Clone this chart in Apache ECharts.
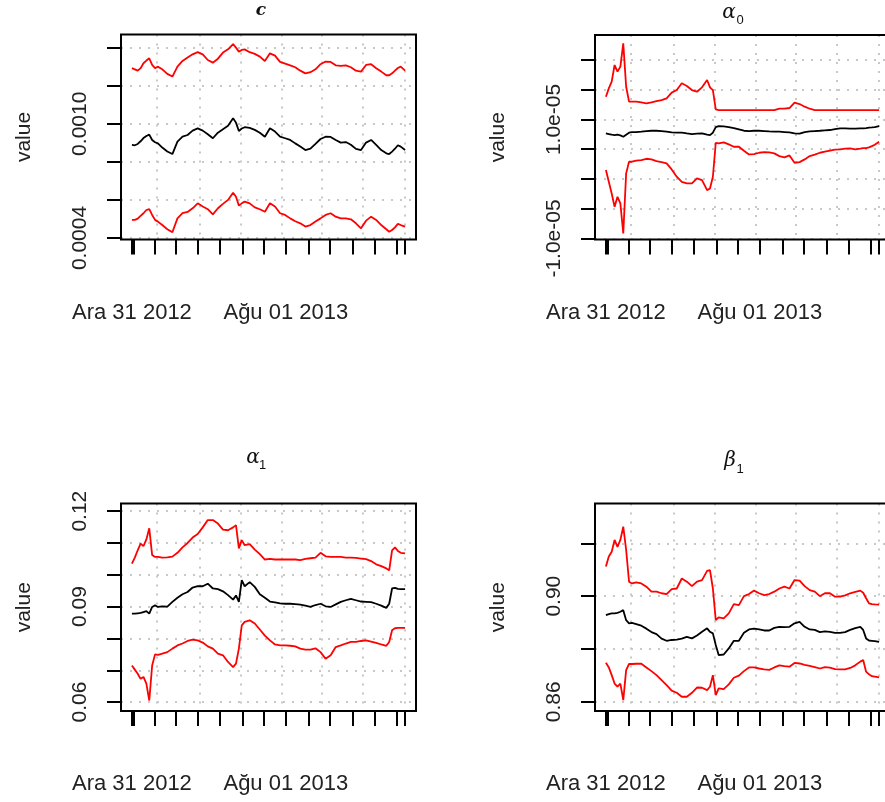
<!DOCTYPE html>
<html><head><meta charset="utf-8">
<script src="https://cdn.jsdelivr.net/npm/echarts@6/dist/echarts.min.js"></script>
<style>html,body{margin:0;padding:0;background:#fff}#c{width:885px;height:802px}</style>
</head><body><div id="c"></div><script>
// sample dates: calendar days after 2012-12-31
const days = [0,4,8,12,16,20,24,28,32,36,
42,49,56,63,70,77,84,91,98,105,112,119,126,133,140,
144,148,152,156,
163,170,177,184,191,198,205,212,219,226,233,240,247,254,261,268,275,282,289,296,303,310,317,324,331,338,345,352,
356,360,364,368,372,378];

// x-axis ticks (first trading day of each month + ends), labels
const xTickDays = [0,2,32,60,91,121,154,182,213,245,274,305,336,367,378];
const xLabelDays = [0,213];
const xLabelTexts = ['Ara 31 2012','A\u011fu 01 2013'];
const gridLineDays = [34,94,150,207,263,320,378];

// panel c
const cUpper = [0.001292,0.001286,0.001279,0.001292,0.001318,0.001332,0.001344,0.001309,0.001292,0.001300,
0.001286,0.001262,0.001248,0.001300,0.001330,0.001348,0.001365,0.001376,0.001365,0.001335,0.001321,0.001342,0.001374,0.001391,0.001419,
0.001400,0.001379,0.001388,0.001391,
0.001376,0.001367,0.001353,0.001330,0.001370,0.001358,0.001325,0.001316,0.001307,0.001297,0.001279,0.001265,0.001271,0.001286,0.001313,0.001327,0.001325,0.001307,0.001304,0.001307,0.001297,0.001279,0.001274,0.001309,0.001313,0.001292,0.001274,0.001255,
0.001255,0.001265,0.001279,0.001293,0.001300,0.001279];
const cMid = [0.000889,0.000887,0.000894,0.000908,0.000925,0.000936,0.000943,0.000915,0.000903,0.000897,
0.000875,0.000854,0.000841,0.000906,0.000932,0.000941,0.000964,0.000976,0.000964,0.000945,0.000924,0.000953,0.000971,0.000989,0.001029,
0.001006,0.000962,0.000975,0.000982,
0.000978,0.000968,0.000953,0.000932,0.000976,0.000959,0.000932,0.000924,0.000915,0.000897,0.000880,0.000862,0.000869,0.000894,0.000920,0.000932,0.000931,0.000915,0.000901,0.000904,0.000890,0.000868,0.000862,0.000901,0.000915,0.000889,0.000862,0.000845,
0.000841,0.000854,0.000869,0.000887,0.000880,0.000862];
const cLower = [0.000495,0.000495,0.000502,0.000516,0.000530,0.000547,0.000552,0.000521,0.000495,0.000486,
0.000468,0.000446,0.000430,0.000503,0.000530,0.000537,0.000556,0.000582,0.000565,0.000551,0.000524,0.000556,0.000579,0.000600,0.000638,
0.000617,0.000570,0.000582,0.000591,
0.000582,0.000561,0.000551,0.000538,0.000582,0.000565,0.000530,0.000521,0.000503,0.000488,0.000477,0.000460,0.000468,0.000486,0.000503,0.000521,0.000530,0.000512,0.000503,0.000503,0.000498,0.000477,0.000451,0.000491,0.000512,0.000495,0.000468,0.000446,
0.000433,0.000442,0.000456,0.000474,0.000468,0.000460];

// panel alpha0
const a0Upper = [13.83e-6,15.23e-6,16.36e-6,19.16e-6,18.04e-6,18.88e-6,22.80e-6,15.51e-6,12.99e-6,12.99e-6,
12.99e-6,12.88e-6,12.71e-6,12.88e-6,13.10e-6,13.27e-6,13.55e-6,14.51e-6,14.95e-6,16.08e-6,15.63e-6,14.95e-6,14.67e-6,15.40e-6,16.64e-6,
15.40e-6,14.95e-6,11.70e-6,11.59e-6,
11.59e-6,11.59e-6,11.59e-6,11.59e-6,11.59e-6,11.59e-6,11.59e-6,11.59e-6,11.59e-6,11.59e-6,11.59e-6,
11.81e-6,11.81e-6,11.93e-6,12.82e-6,12.60e-6,12.15e-6,11.81e-6,
11.59e-6,11.59e-6,11.59e-6,11.59e-6,11.59e-6,11.59e-6,11.59e-6,11.59e-6,11.59e-6,11.59e-6,
11.59e-6,11.59e-6,11.59e-6,11.59e-6,11.59e-6,11.59e-6];
const a0Mid = [7.66e-6,7.55e-6,7.44e-6,7.38e-6,7.44e-6,7.33e-6,7.10e-6,7.44e-6,7.78e-6,7.89e-6,
7.89e-6,7.95e-6,8.06e-6,8.11e-6,8.11e-6,8.06e-6,7.95e-6,7.83e-6,7.78e-6,7.78e-6,7.66e-6,7.55e-6,7.61e-6,7.66e-6,7.44e-6,
7.38e-6,7.78e-6,8.73e-6,8.90e-6,
8.84e-6,8.73e-6,8.56e-6,8.34e-6,8.11e-6,8.06e-6,8.11e-6,8.11e-6,8.06e-6,8.00e-6,7.95e-6,7.95e-6,7.89e-6,7.83e-6,7.66e-6,7.61e-6,7.89e-6,8.00e-6,8.06e-6,8.11e-6,8.17e-6,8.23e-6,8.39e-6,8.51e-6,8.51e-6,8.45e-6,8.45e-6,8.51e-6,
8.51e-6,8.56e-6,8.62e-6,8.67e-6,8.73e-6,8.90e-6];
const a0Lower = [1.50e-6,-0.47e-6,-2.43e-6,-4.67e-6,-2.99e-6,-4.11e-6,-9.16e-6,0.94e-6,2.90e-6,2.90e-6,
3.07e-6,3.18e-6,3.40e-6,3.29e-6,3.01e-6,2.84e-6,2.62e-6,1.61e-6,0.38e-6,-0.47e-6,-0.75e-6,-0.75e-6,0.10e-6,-0.19e-6,-1.87e-6,
-1.59e-6,0.38e-6,6.09e-6,5.98e-6,
6.15e-6,5.81e-6,5.42e-6,5.42e-6,4.75e-6,4.13e-6,4.19e-6,4.41e-6,4.52e-6,4.47e-6,4.30e-6,3.85e-6,3.63e-6,3.96e-6,2.73e-6,2.84e-6,3.29e-6,3.85e-6,4.08e-6,4.41e-6,4.58e-6,4.75e-6,4.92e-6,4.97e-6,5.09e-6,5.14e-6,4.97e-6,5.09e-6,
5.20e-6,5.20e-6,5.31e-6,5.53e-6,5.76e-6,6.26e-6];

// panel alpha1
const a1Upper = [0.1035,0.1054,0.1077,0.1098,0.1090,0.1111,0.1146,0.1062,0.1056,0.1056,
0.1054,0.1055,0.1057,0.1069,0.1086,0.1100,0.1117,0.1128,0.1149,0.1172,0.1172,0.1161,0.1142,0.1140,0.1149,
0.1156,0.1083,0.1109,0.1093,
0.1096,0.1079,0.1065,0.1048,0.1050,0.1048,0.1048,0.1048,0.1048,0.1048,0.1046,0.1050,0.1052,0.1054,0.1069,0.1058,0.1056,0.1056,0.1056,0.1054,0.1054,0.1053,0.1051,0.1049,0.1043,0.1033,0.1027,0.1020,
0.1014,0.1077,0.1086,0.1075,0.1069,0.1067];
const a1Mid = [0.0878,0.0878,0.0879,0.0880,0.0883,0.0886,0.0878,0.0899,0.0904,0.0899,
0.0901,0.0900,0.0915,0.0928,0.0939,0.0946,0.0960,0.0964,0.0964,0.0972,0.0957,0.0955,0.0948,0.0936,0.0922,
0.0935,0.0915,0.0983,0.0964,
0.0977,0.0962,0.0939,0.0928,0.0916,0.0913,0.0910,0.0909,0.0909,0.0908,0.0906,0.0903,0.0899,0.0905,0.0909,0.0901,0.0899,0.0907,0.0915,0.0920,0.0924,0.0920,0.0916,0.0915,0.0914,0.0909,0.0903,0.0896,
0.0909,0.0957,0.0959,0.0956,0.0955,0.0955];
const a1Lower = [0.0715,0.0702,0.0689,0.0673,0.0679,0.0658,0.0605,0.0715,0.0750,0.0748,
0.0752,0.0757,0.0768,0.0778,0.0784,0.0792,0.0796,0.0794,0.0787,0.0775,0.0768,0.0752,0.0747,0.0726,0.0710,
0.0721,0.0768,0.0841,0.0852,
0.0857,0.0847,0.0828,0.0809,0.0794,0.0781,0.0778,0.0778,0.0777,0.0775,0.0768,0.0765,0.0765,0.0769,0.0757,0.0736,0.0747,0.0773,0.0778,0.0784,0.0789,0.0789,0.0792,0.0794,0.0790,0.0786,0.0781,0.0777,
0.0789,0.0826,0.0832,0.0833,0.0833,0.0833];

// panel beta1
const b1Upper = [0.9112,0.9150,0.9168,0.9213,0.9187,0.9213,0.9263,0.9175,0.9055,0.9048,
0.9052,0.9048,0.9036,0.9017,0.9017,0.9011,0.9008,0.9027,0.9029,0.9067,0.9055,0.9038,0.9055,0.9061,0.9096,
0.9099,0.9029,0.8909,0.8920,
0.8916,0.8935,0.8970,0.8966,0.9000,0.9008,0.9021,0.9011,0.9004,0.9008,0.9017,0.9029,0.9036,0.9029,0.9061,0.9059,0.9038,0.9023,0.9017,0.9000,0.9011,0.9011,0.8998,0.8998,0.9003,0.9011,0.9016,0.9021,
0.9013,0.8992,0.8973,0.8970,0.8969,0.8968];
const b1Mid = [0.8928,0.8932,0.8935,0.8935,0.8937,0.8941,0.8947,0.8909,0.8897,0.8899,
0.8894,0.8888,0.8877,0.8864,0.8856,0.8839,0.8831,0.8834,0.8835,0.8839,0.8846,0.8840,0.8851,0.8865,0.8878,
0.8865,0.8859,0.8815,0.8777,
0.8779,0.8802,0.8831,0.8831,0.8861,0.8874,0.8877,0.8874,0.8870,0.8870,0.8880,0.8884,0.8883,0.8884,0.8897,0.8903,0.8884,0.8874,0.8872,0.8864,0.8867,0.8865,0.8861,0.8861,0.8864,0.8872,0.8879,0.8884,
0.8872,0.8840,0.8832,0.8831,0.8830,0.8827];
const b1Lower = [0.8748,0.8730,0.8701,0.8669,0.8657,0.8669,0.8606,0.8720,0.8743,0.8743,
0.8744,0.8744,0.8730,0.8716,0.8701,0.8682,0.8663,0.8642,0.8634,0.8619,0.8619,0.8634,0.8654,0.8653,0.8644,
0.8657,0.8701,0.8625,0.8651,
0.8648,0.8666,0.8691,0.8699,0.8716,0.8730,0.8730,0.8726,0.8723,0.8721,0.8730,0.8738,0.8735,0.8733,0.8747,0.8745,0.8740,0.8736,0.8731,0.8726,0.8731,0.8729,0.8724,0.8723,0.8723,0.8728,0.8738,0.8752,
0.8758,0.8714,0.8704,0.8697,0.8695,0.8692];

// y-axis ticks and labels
const cTicks = [0.0004,0.0006,0.0008,0.0010,0.0012,0.0014];
const cLabelVals = [0.0004,0.0010];
const cLabelTexts = ['0.0004','0.0010'];
const a0Ticks = [-1e-5,-5e-6,0,5e-6,1e-5,1.5e-5,2e-5];
const a0LabelVals = [-1e-5,1e-5];
const a0LabelTexts = ['-1.0e-05','1.0e-05'];
const a1Ticks = [0.06,0.07,0.08,0.09,0.10,0.11,0.12];
const a1LabelVals = [0.06,0.09,0.12];
const a1LabelTexts = ['0.06','0.09','0.12'];
const b1Ticks = [0.86,0.88,0.90,0.92];
const b1LabelVals = [0.86,0.90];
const b1LabelTexts = ['0.86','0.90'];

const titleMain = ['c','\u03b1','\u03b1','\u03b2'];
const titleSub = ['','0','1','1'];

const panels = [
  {left:121, top:34.5, height:205, yMin:0.000392, yMax:0.001469, ticks:cTicks, lv:cLabelVals, lt:cLabelTexts, s:[cUpper,cMid,cLower], tx:261, ty:11, sx:0, sy:0},
  {left:595, top:35, height:204.5, yMin:-1.017e-5, yMax:2.42e-5, ticks:a0Ticks, lv:a0LabelVals, lt:a0LabelTexts, s:[a0Upper,a0Mid,a0Lower], tx:729, ty:13, sx:740, sy:20},
  {left:121, top:503.5, height:207.5, yMin:0.0572, yMax:0.1224, ticks:a1Ticks, lv:a1LabelVals, lt:a1LabelTexts, s:[a1Upper,a1Mid,a1Lower], tx:253, ty:458, sx:262.5, sy:465},
  {left:595, top:503.5, height:207.5, yMin:0.8565, yMax:0.9351, ticks:b1Ticks, lv:b1LabelVals, lt:b1LabelTexts, s:[b1Upper,b1Mid,b1Lower], tx:730, ty:461, sx:740, sy:469}
];

const FONT = 'Liberation Sans';
const TXT = '#222';
const dotted = {type:[2,7], color:'#c8c8c8', width:2};
function fmt(vals, texts){
  return function(v){
    for (let j=0;j<vals.length;j++){ if (Math.abs(vals[j]-v) <= Math.abs(vals[j])*1e-6 + 1e-15) return texts[j]; }
    return '';
  };
}

const grids=[], xAxes=[], yAxes=[], series=[], graphics=[];
panels.forEach((p,i)=>{
  grids.push({left:p.left, top:p.top, width:295, height:p.height, show:true, borderColor:'#000', borderWidth:2, z:2,
    backgroundColor:'rgba(0,0,0,0)', containLabel:false, outerBoundsMode:'none'});
  xAxes.push({type:'value', gridIndex:i, min:-15.1, max:393.1, position:'bottom', z:0,
    axisLine:{show:false, onZero:false},
    axisTick:{show:true, customValues:xTickDays, length:15, lineStyle:{color:'#000', width:2}},
    axisLabel:{show:true, customValues:xLabelDays, formatter:fmt(xLabelDays,xLabelTexts), margin:62, fontSize:22, color:TXT, fontFamily:FONT},
    splitLine:{show:false}});
  xAxes.push({type:'value', gridIndex:i, min:-15.1, max:393.1, position:'top', z:0,
    axisLine:{show:false, onZero:false},
    axisTick:{show:false, customValues:gridLineDays},
    axisLabel:{show:false, customValues:gridLineDays},
    splitLine:{show:true, lineStyle:dotted}});
  yAxes.push({type:'value', gridIndex:i, min:p.yMin, max:p.yMax, z:0,
    axisLine:{show:false, onZero:false},
    axisTick:{show:true, customValues:p.ticks, length:14, lineStyle:{color:'#000', width:2}},
    axisLabel:{show:true, customValues:p.lv, formatter:fmt(p.lv,p.lt), rotate:90, margin:30, fontSize:21, color:TXT, fontFamily:FONT},
    splitLine:{show:true, lineStyle:dotted},
    name:'value', nameLocation:'middle', nameGap:86, nameRotate:90,
    nameTextStyle:{fontSize:21, color:TXT, fontFamily:FONT}});
  const cols = ['#ff0000','#000000','#ff0000'];
  p.s.forEach((arr,k)=>{
    series.push({type:'line', xAxisIndex:2*i, yAxisIndex:i, showSymbol:false, symbol:'none', silent:true,
      lineStyle:{color:cols[k], width:1.8}, itemStyle:{color:cols[k]}, z:3,
      data: days.map((d,j)=>[d, arr[j]])});
  });
  graphics.push({type:'text', x:p.tx, y:p.ty, style:{text:titleMain[i], font:(i===0?'italic bold 17px ':'italic 20px ')+'"DejaVu Serif"', fill:'#111', align:'center', verticalAlign:'middle'}});
  if (titleSub[i]) graphics.push({type:'text', x:p.sx, y:p.sy, style:{text:titleSub[i], font:'13px "Liberation Sans"', fill:'#111', align:'center', verticalAlign:'middle'}});
});

const chart = echarts.init(document.getElementById('c'), null, {renderer:'canvas'});
chart.setOption({animation:false, backgroundColor:'#fff', grid:grids, xAxis:xAxes, yAxis:yAxes, series:series, graphic:graphics});
</script></body></html>
